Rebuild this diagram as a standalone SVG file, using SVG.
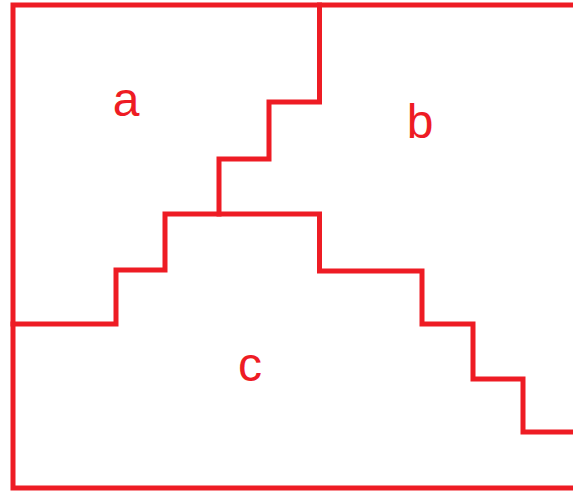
<svg xmlns="http://www.w3.org/2000/svg" width="573" height="491" viewBox="0 0 573 491">
<style>
.ln{fill:none;stroke:#ee1c24;stroke-width:5;stroke-linejoin:miter;stroke-linecap:square}
.lb{font-family:"Liberation Sans",Arial,sans-serif;font-size:48px;fill:#ee1c24;text-anchor:middle}
</style>
<rect width="573" height="491" fill="#ffffff"/>
<g id="connectors">
<path class="ln" d="M575,5 H13 V488 H575"/>
<path class="ln" d="M319.5,5 V102 H269 V159 H219 V214"/>
<path class="ln" d="M13,324 H116 V270 H165 V214 H319.5 V271 H422 V324 H473 V379 H523 V432 H575"/>
</g>
<g id="region-a"><text class="lb" x="126" y="116">a</text></g>
<g id="region-b"><text class="lb" x="420" y="138">b</text></g>
<g id="region-c"><text class="lb" x="250" y="381">c</text></g>
</svg>
